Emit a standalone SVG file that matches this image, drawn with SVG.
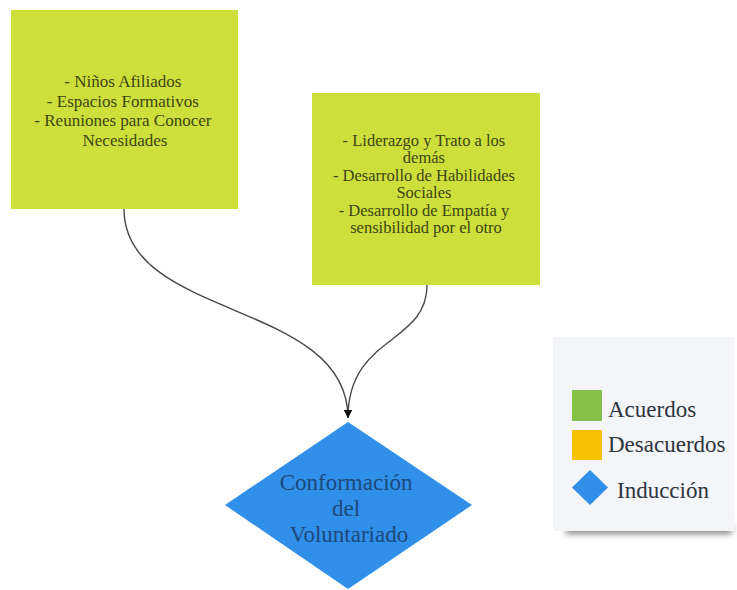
<svg xmlns="http://www.w3.org/2000/svg" width="737" height="590" viewBox="0 0 737 590">
  <style>
    .box { fill: #cddf3b; }
    .btxt { font-family: 'Liberation Serif', 'Tinos', 'DejaVu Serif', serif; fill: #3b4614; text-anchor: middle; }
    .conn { fill: none; stroke: #4a4a4a; stroke-width: 1.4; }
    .leg { font-family: 'Liberation Serif', 'Tinos', 'DejaVu Serif', serif; font-size: 23px; fill: #2e3440; }
    .dtxt { font-family: 'Liberation Serif', 'Tinos', 'DejaVu Serif', serif; font-size: 23px; fill: #1c4a7c; text-anchor: middle; }
  </style>
  <defs>
    <marker id="arrow" viewBox="0 0 10 10" refX="10" refY="5" markerWidth="8" markerHeight="10" markerUnits="userSpaceOnUse" orient="auto">
      <path d="M0,0 L10,5 L0,10 z" fill="#111"/>
    </marker>
    <filter id="blur" x="-20%" y="-200%" width="140%" height="500%">
      <feGaussianBlur stdDeviation="3"/>
    </filter>
  </defs>
  <rect width="737" height="590" fill="#ffffff"/>

  <g id="node-ninos">
    <rect class="box" x="11" y="10" width="227" height="199"/>
    <text class="btxt" font-size="17">
      <tspan x="125" y="87">- Niños Afiliados</tspan>
      <tspan x="125" y="106.5">- Espacios Formativos</tspan>
      <tspan x="125" y="126">- Reuniones para Conocer</tspan>
      <tspan x="125" y="145.5">Necesidades</tspan>
    </text>
  </g>

  <g id="node-liderazgo">
    <rect class="box" x="312" y="93" width="228" height="192"/>
    <text class="btxt" font-size="16.5">
      <tspan x="426" y="145.5">- Liderazgo y Trato a los</tspan>
      <tspan x="426" y="163">demás</tspan>
      <tspan x="426" y="180.5">- Desarrollo de Habilidades</tspan>
      <tspan x="426" y="198">Sociales</tspan>
      <tspan x="426" y="215.5">- Desarrollo de Empatía y</tspan>
      <tspan x="426" y="233">sensibilidad por el otro</tspan>
    </text>
  </g>

  <g id="node-conformacion">
    <polygon points="348,422 472,505 348,589 225,505" fill="#2f8fe9"/>
    <text class="dtxt">
      <tspan x="349" y="490">Conformación</tspan>
      <tspan x="349" y="516">del</tspan>
      <tspan x="349" y="542">Voluntariado</tspan>
    </text>
  </g>

  <g id="connectors">
    <path class="conn" d="M124,209 C124,320 348,300 348,418" marker-end="url(#arrow)"/>
    <path class="conn" d="M427,285 C427,345 348,335 348,418" marker-end="url(#arrow)"/>
  </g>

  <g id="legend">
    <rect x="566" y="524" width="166" height="10" fill="#6d6d6d" filter="url(#blur)" opacity="0.8"/>
    <rect x="553" y="337" width="181" height="194" fill="#f3f5f8"/>
    <rect x="572" y="390" width="30" height="31" fill="#86c14a"/>
    <text class="leg" x="608" y="417">Acuerdos</text>
    <rect x="572" y="430" width="30" height="30" fill="#f7c104"/>
    <text class="leg" x="608" y="452">Desacuerdos</text>
    <polygon points="590,470 608,487.5 590,505 572,487.5" fill="#2f8fe9"/>
    <text class="leg" x="617" y="498">Inducción</text>
  </g>
</svg>
